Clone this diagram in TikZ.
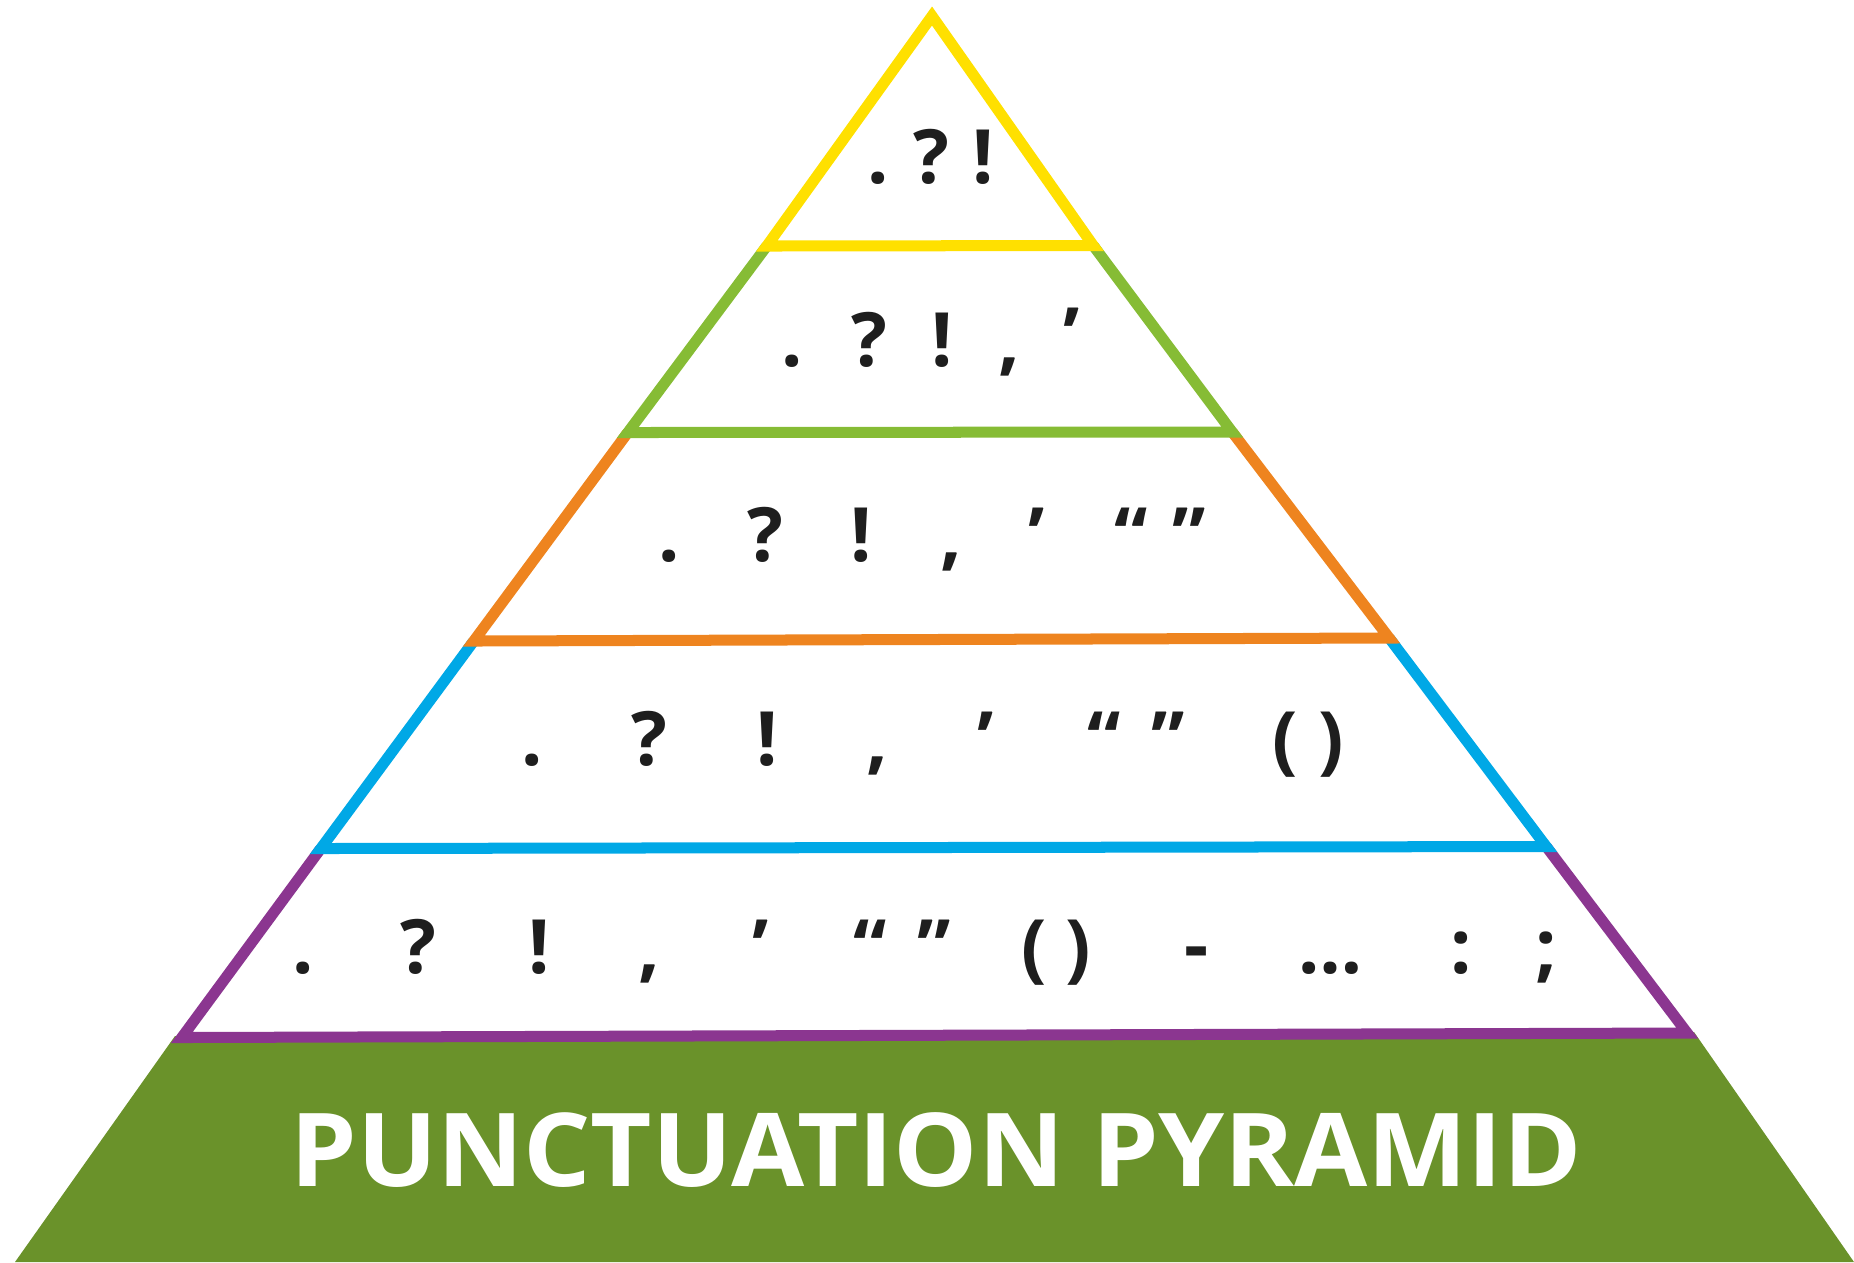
\documentclass[tikz,border=0pt]{standalone}
\usepackage{fontspec}
\setmainfont{Open Sans}
\definecolor{pyYellow}{HTML}{FFE000}
\definecolor{pyGreen}{HTML}{86BC35}
\definecolor{pyOrange}{HTML}{EE841F}
\definecolor{pyBlue}{HTML}{00A8E6}
\definecolor{pyPurple}{HTML}{8B3690}
\definecolor{pyBase}{HTML}{6A922A}
\definecolor{pyInk}{HTML}{1E1E1E}
\begin{document}
\begin{tikzpicture}[x=0.01cm,y=-0.01cm,
  band/.style={line width=0.11cm, line join=miter, miter limit=10},
  punct/.style={anchor=base, inner sep=0pt, text=pyInk, font=\fontsize{21.3pt}{25pt}\selectfont\bfseries},
  ptitle/.style={anchor=base, inner sep=0pt, text=white, font=\fontsize{29pt}{32pt}\selectfont\bfseries}]
\useasboundingbox (0,0) rectangle (1854,1262);
% band corners (stroke centre lines)
\coordinate (apex) at (932,16);
\coordinate (yl) at (766.8,246);  \coordinate (yr) at (1093.2,245.5);
\coordinate (gl) at (627.8,432.5); \coordinate (gr) at (1232.2,432);
\coordinate (ol) at (473.8,641);  \coordinate (or) at (1389.2,638);
\coordinate (bl) at (320.8,848.5); \coordinate (br) at (1546.2,846.5);
\coordinate (pl) at (181.8,1037.5); \coordinate (pr) at (1687.2,1033);
% green base
\fill[pyBase] (175,1036) -- (15,1262) -- (1854,1262) -- (1694,1032) -- cycle;
% bands
\draw[band, pyPurple] (bl) -- (pl) -- (pr) -- (br);
\draw[band, pyBlue] (ol) -- (bl) -- (br) -- (or);
\draw[band, pyOrange] (gl) -- (ol) -- (or) -- (gr);
\draw[band, pyGreen] (yl) -- (gl) -- (gr) -- (yr);
\draw[band, pyYellow] (apex) -- (yl) -- (yr) -- cycle;
% row 1
\node[punct] (r1a) at (878,183) {.};
\node[punct] (r1b) at (931,183) {?};
\node[punct] (r1c) at (983,183) {!};
% row 2
\node[punct] (r2a) at (792,366.5) {.};
\node[punct] (r2b) at (869,366.5) {?};
\node[punct] (r2c) at (942,366.5) {!};
\node[punct] (r2d) at (1009,366.5) {,};
\node[punct] (r2e) at (1072,361) {’};
% row 3
\node[punct] (r3a) at (669,561.6) {.};
\node[punct] (r3b) at (765,561.6) {?};
\node[punct] (r3c) at (861,561.6) {!};
\node[punct] (r3d) at (951,561.6) {,};
\node[punct] (r3e) at (1037,561.6) {’};
\node[punct] (r3f) at (1131.5,561.6) {“};
\node[punct] (r3g) at (1189.5,561.6) {”};
% row 4
\node[punct] (r4a) at (532,765) {.};
\node[punct] (r4b) at (649,765) {?};
\node[punct] (r4c) at (767.4,765) {!};
\node[punct] (r4d) at (877.3,765) {,};
\node[punct] (r4e) at (986.1,765) {’};
\node[punct] (r4f) at (1104.4,765) {“};
\node[punct] (r4g) at (1168.2,765) {”};
\node[punct] (r4h) at (1285.3,765) {(};
\node[punct] (r4i) at (1331.4,765) {)};
% row 5
\node[punct] (r5a) at (302.7,973) {.};
\node[punct] (r5b) at (418.6,973) {?};
\node[punct] (r5c) at (539.2,973) {!};
\node[punct] (r5d) at (649.1,973) {,};
\node[punct] (r5e) at (760.3,973) {’};
\node[punct] (r5f) at (870.2,973) {“};
\node[punct] (r5g) at (934.1,973) {”};
\node[punct] (r5h) at (1034.6,973) {(};
\node[punct] (r5i) at (1078.3,973) {)};
\node[punct] (r5j) at (1196.6,971) {-};
\node[punct] (r5k) at (1330.2,973) {…};
\node[punct] (r5l) at (1461.5,973) {:};
\node[punct] (r5m) at (1546.6,973) {;};
% title
\node[ptitle] (title) at (936,1186) {\scalebox{1.04}[1]{PUNCTUATION PYRAMID}};
\end{tikzpicture}
\end{document}
